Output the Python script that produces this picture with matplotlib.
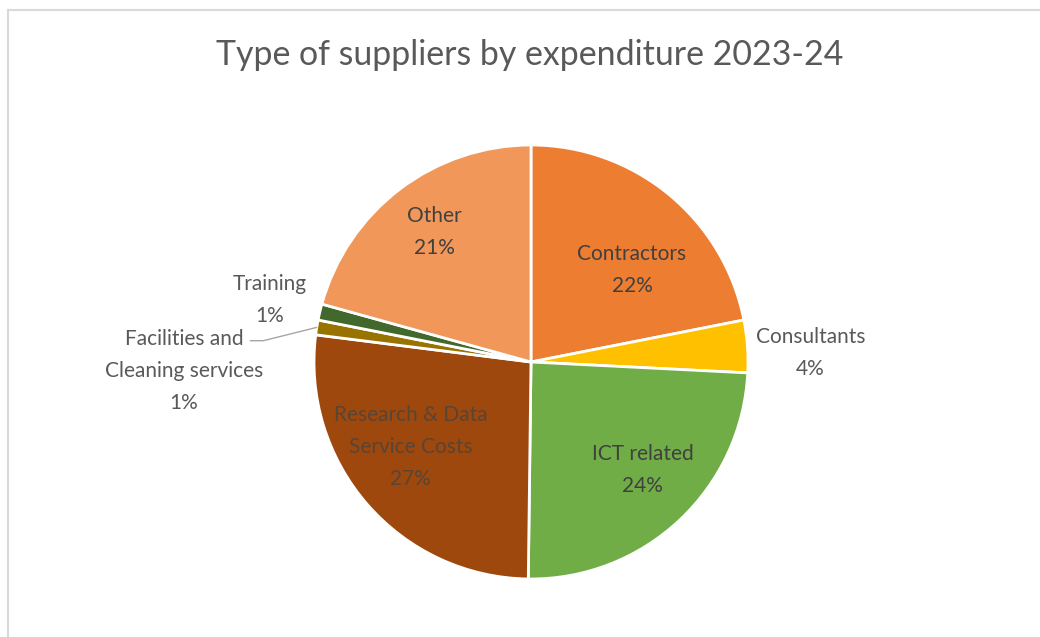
import numpy as np
import matplotlib
matplotlib.use('Agg')
import matplotlib.pyplot as plt

plt.rcParams['font.family'] = ['Lato', 'DejaVu Sans']

# data (share of expenditure, %)
categories = ['Contractors', 'Consultants', 'ICT related', 'Research & Data\nService Costs',
              'Facilities and\nCleaning services', 'Training', 'Other']
shares = [21.9, 3.9, 24.4, 26.8, 1.1, 1.2, 20.7]
pct_labels = ['22%', '4%', '24%', '27%', '1%', '1%', '21%']
colors = ['#ED7D31', '#FFC000', '#70AD47', '#9E480E', '#997300', '#43682B', '#F1975A']

# label placement: (radius fraction, angle offset in deg)
label_pos = [(0.645, -6.8), (1.29, -1.2), (0.70, 4.0), (0.667, -7.5),
             (1.60, 9.9), (1.245, -1.1), (0.765, -1.6)]
label_col = ['#404040', '#595959', '#404040', '#5a4434', '#595959', '#595959', '#404040']

W, H = 1040, 637
fig = plt.figure(figsize=(W / 100, H / 100), dpi=100)
ax = fig.add_axes([0, 0, 1, 1])

cx, cy, R = 531, H - 362, 217
wedges, _ = ax.pie(shares, colors=colors, startangle=90, counterclock=False,
                   center=(cx, cy), radius=R,
                   wedgeprops=dict(edgecolor='white', linewidth=2))

fs = 15
for i, w in enumerate(wedges):
    mid = (w.theta1 + w.theta2) / 2
    dist, off = label_pos[i]
    a = np.deg2rad(mid + off)
    tx, ty = cx + dist * R * np.cos(a), cy + dist * R * np.sin(a) - 5
    txt = categories[i] + '\n' + pct_labels[i]
    if i == 4:
        # leader line for the small facilities slice
        am = np.deg2rad(mid)
        ex, ey = cx + R * np.cos(am), cy + R * np.sin(am)
        ax.annotate(txt, xy=(ex, ey), xytext=(tx, ty), ha='center', va='center',
                    fontsize=fs, color=label_col[i], linespacing=1.75,
                    arrowprops=dict(arrowstyle='-', color='#a6a6a6', lw=1, patchA=None,
                                    shrinkA=0, shrinkB=0, relpos=(0.92, 0.865),
                                    connectionstyle='angle,angleA=0,angleB=14,rad=0'))
    else:
        ax.text(tx, ty, txt, ha='center', va='center', fontsize=fs,
                color=label_col[i], linespacing=1.75)

ax.text(W / 2 + 10, H - 55, 'Type of suppliers by expenditure 2023-24',
        ha='center', va='center', fontsize=24.4, color='#595959')

# chart area border (top and left visible)
ax.plot([7.5, 7.5], [0, H - 9.5], color='#d9d9d9', lw=1.5)
ax.plot([7.5, W], [H - 9.5, H - 9.5], color='#d9d9d9', lw=1.5)

ax.set_xlim(0, W)
ax.set_ylim(0, H)
ax.set_aspect('equal')
ax.axis('off')

fig.savefig('out.png', dpi=100, facecolor='white')
